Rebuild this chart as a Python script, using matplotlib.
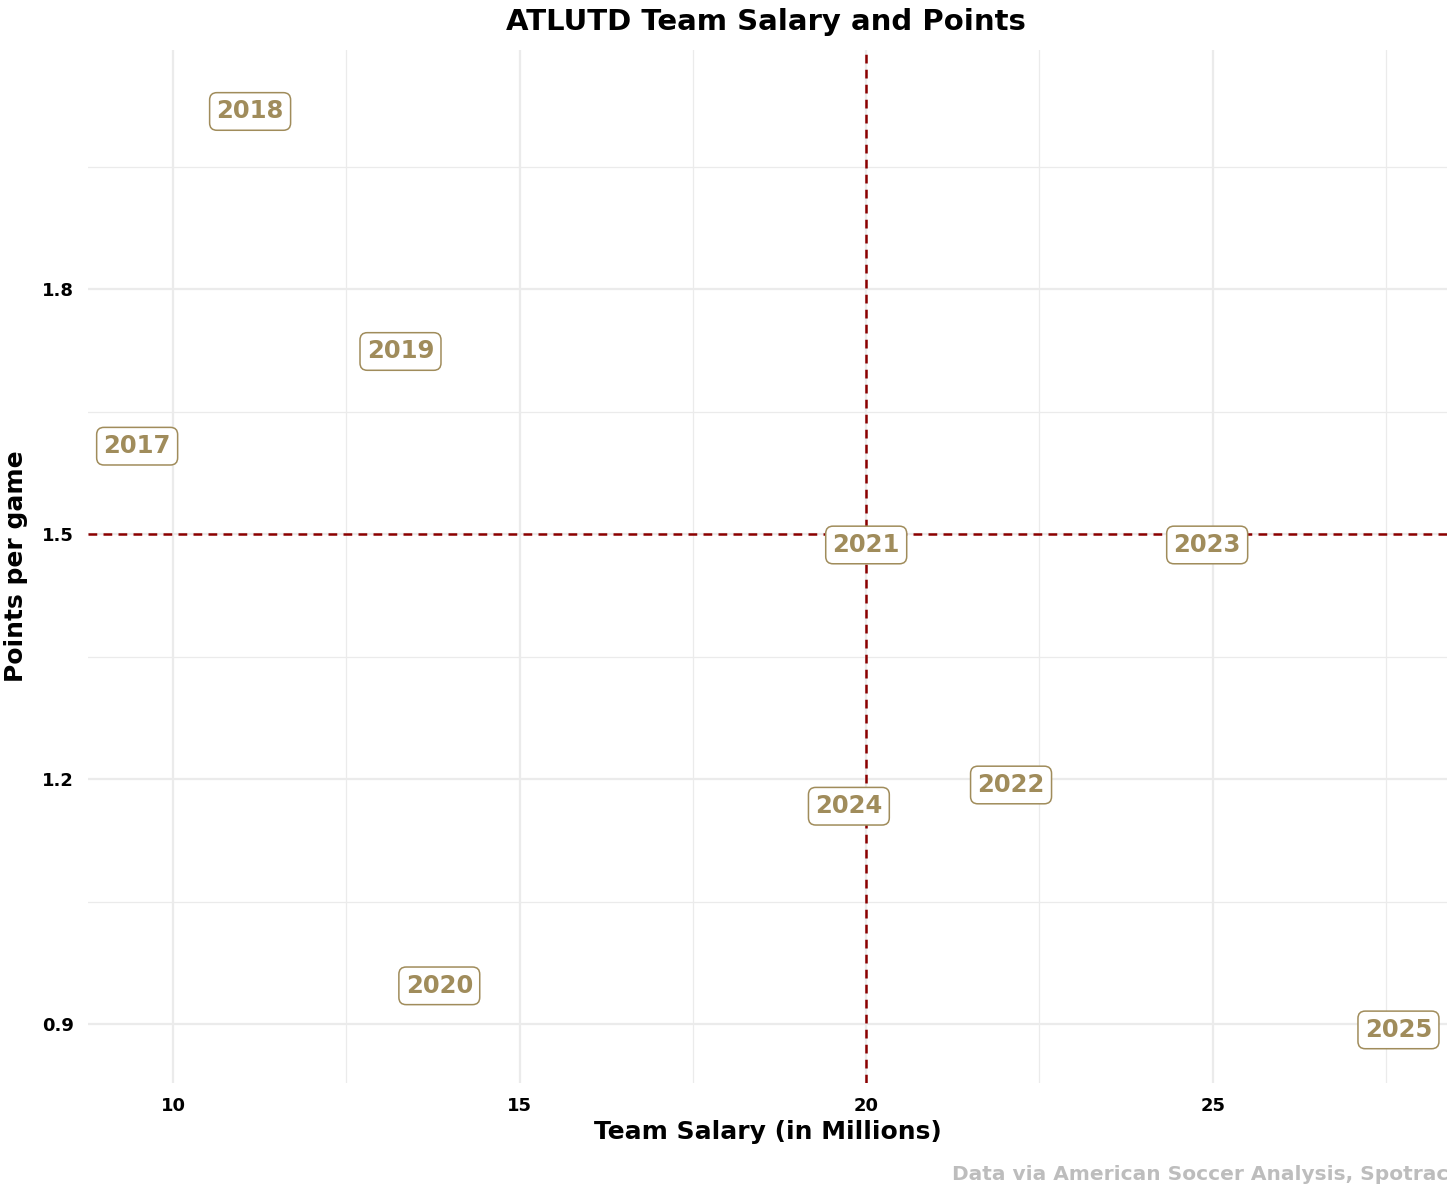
import matplotlib
matplotlib.use("Agg")
import matplotlib.pyplot as plt

# season labels (label centres)
years = ["2017", "2018", "2019", "2020", "2021", "2022", "2023", "2024", "2025"]
salary = [9.48, 11.11, 13.28, 13.84, 20.0, 22.09, 24.92, 19.75, 27.68]
ppg = [1.608, 2.018, 1.724, 0.947, 1.487, 1.193, 1.487, 1.167, 0.893]

mean_salary = 20.0
mean_ppg = 1.5

gold = "#A08C5B"
red = "#8B0000"
grid = "#EBEBEB"
head = "DejaVu Sans"

fig = plt.figure(figsize=(14.56, 11.96), dpi=100)
ax = fig.add_axes([0.0604, 0.0945, 0.9334, 0.8635])

ax.set_xlim(8.77, 28.38)
ax.set_ylim(0.828, 2.093)
ax.set_xticks([10, 15, 20, 25])
ax.set_yticks([0.9, 1.2, 1.5, 1.8])
ax.set_xticks([12.5, 17.5, 22.5, 27.5], minor=True)
ax.set_yticks([1.05, 1.35, 1.65, 1.95], minor=True)
ax.grid(which="major", color=grid, linewidth=1.6)
ax.grid(which="minor", color=grid, linewidth=0.9)
ax.set_axisbelow(True)
for s in ax.spines.values():
    s.set_visible(False)
ax.tick_params(which="both", length=0, pad=10)
for lab in ax.get_xticklabels() + ax.get_yticklabels():
    lab.set_fontfamily(head)
    lab.set_fontweight("bold")
    lab.set_fontsize(13)

ax.axvline(mean_salary, color=red, linestyle=(0, (3.5, 2.5)), linewidth=1.8, zorder=1)
ax.axhline(mean_ppg, color=red, linestyle=(0, (3.5, 2.5)), linewidth=1.8, zorder=1)

for yr, xv, yv in zip(years, salary, ppg):
    ax.text(xv, yv, yr, ha="center", va="center", fontsize=17.5, fontweight="bold",
            color=gold, family="DejaVu Sans", zorder=3,
            bbox=dict(boxstyle="round,pad=0.28,rounding_size=0.3", fc="white",
                      ec=gold, lw=1.1))

ax.set_xlabel("Team Salary (in Millions)", fontsize=18, fontweight="bold",
              family=head, labelpad=4)
ax.set_ylabel("Points per game", fontsize=18, fontweight="bold",
              family=head, labelpad=10)
fig.text(0.526, 0.982, "ATLUTD Team Salary and Points", ha="center", va="center",
         fontsize=21, fontweight="bold", family=head)
fig.text(0.995, 0.018, "Data via American Soccer Analysis, Spotrac", ha="right",
         va="center", fontsize=14.5, fontweight="bold", family=head, color="#BDBDBD")

fig.savefig("out.png", dpi=100, facecolor="white")
